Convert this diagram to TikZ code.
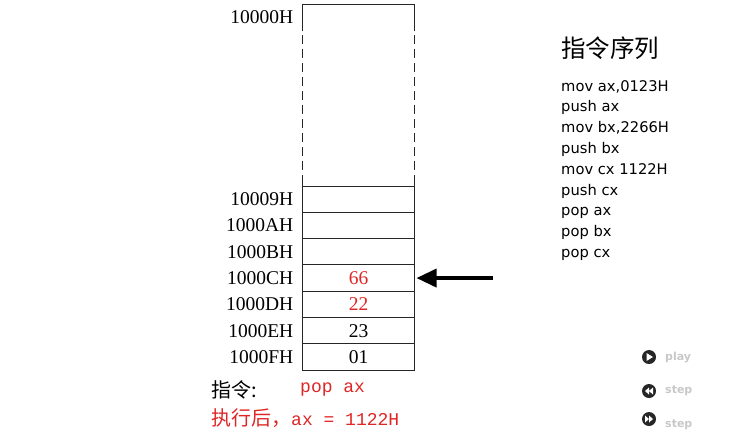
\documentclass[tikz,border=0pt]{standalone}
\usepackage{fontspec}
\setmainfont{Liberation Serif}
\newfontfamily\cjk{Noto Sans CJK SC}
\newfontfamily\listfont{DejaVu Sans}
\newfontfamily\codefont{Liberation Mono}
\usetikzlibrary{arrows.meta,positioning}
\definecolor{stackred}{RGB}{222,38,38}
\definecolor{btngray}{RGB}{200,200,200}
\definecolor{btndark}{RGB}{38,38,38}

\begin{document}
\begin{tikzpicture}[x=1pt,y=-1pt,node distance=0pt,>=latex,every node/.append style={inner sep=0pt},cell/.style={draw=black!85, line width=1pt, outer sep=0pt, minimum width=112pt, minimum height=26.3pt, font=\fontsize{19.5}{19.5}\selectfont},addr/.style={font=\fontsize{19.5}{19.5}\selectfont},
  redval/.style={text=stackred},btn/.style={fill=btndark},btnlabel/.style={anchor=west, text=btngray, font=\listfont\bfseries\fontsize{11}{11}\selectfont}]
    \useasboundingbox (0,0) rectangle (736,440);
    % stack of memory cells
    \node [outer sep=0pt, minimum width=112pt, minimum height=182pt] (c0) at (358.5,95) {};
    \node [cell, below=of c0] (c9)  {};
    \node [cell, below=of c9] (cA)  {};
    \node [cell, below=of cA] (cB)  {};
    \node [cell, below=of cB, redval] (cC)  {66};
    \node [cell, below=of cC, redval] (cD)  {22};
    \node [cell, below=of cD] (cE)  {23};
    \node [cell, below=of cE] (cF)  {01};
    \draw [black!85, line width=1pt] (c0.west |- c9.north) -- ++(0,-4) (c0.north west) -- (c0.north east) (c0.north west) -- ++(0,27) (c0.north east) -- ++(0,27) (c0.east |- c9.north) -- ++(0,-4);
    \draw [black!85, line width=1pt, dash pattern=on 9pt off 5pt] (c0.north west) ++(0,31) -- (c0.south west) (c0.north east) ++(0,31) -- (c0.south east);
    % addresses
    \node [addr, anchor=east] (a0) at ([xshift=-9pt, yshift=-13pt]c0.north west) {10000H};
    \node [addr, left=9pt of c9] (a9) {10009H};
    \node [addr, left=9pt of cA] (aA) {1000AH};
    \node [addr, left=9pt of cB] (aB) {1000BH};
    \node [addr, left=9pt of cC] (aC) {1000CH};
    \node [addr, left=9pt of cD] (aD) {1000DH};
    \node [addr, left=9pt of cE] (aE) {1000EH};
    \node [addr, left=9pt of cF] (aF) {1000FH};
    % stack pointer
    \coordinate [right=78pt of cC.east] (sp);
    \draw [-{Triangle[length=20pt,width=18pt]}, line width=3.6pt] (sp) -- ([xshift=2pt]cC.east);
    % current instruction
    \node [anchor=west, font=\cjk\fontsize{20}{20}\selectfont] (op) at (211,390) {指令:};
    \node [anchor=west, text=stackred, font=\codefont\fontsize{18}{18}\selectfont] (opc) at (300,390) {pop ax};
    \node [anchor=west, text=stackred, font=\fontsize{20}{20}\selectfont] (res) at (211,418) {{\cjk 执行后，}{\codefont\fontsize{18}{18}\selectfont ax = 1122H}};
    % instruction list
    \node [anchor=west, font=\cjk\fontsize{24.5}{24.5}\selectfont] (title) at (561,48) {指令序列};
    \node [anchor=north west, align=left, font=\listfont\fontsize{14.7}{20.8}\selectfont] (prog) at (561,80) {mov ax,0123H\\push ax\\mov bx,2266H\\push bx\\mov cx 1122H\\push cx\\pop ax\\pop bx\\pop cx};
    % player buttons
    \fill [btn] (649,357) circle (7);
    \fill [white] (646.5,353) -- (653,357) -- (646.5,361) -- cycle;
    \fill [btn] (649,391) circle (7);
    \fill [white] (645,391) -- (649,387.5) -- (649,394.5) -- cycle (649,391) -- (653,387.5) -- (653,394.5) -- cycle;
    \fill [btn] (649,419) circle (7);
    \fill [white] (653,419) -- (649,415.5) -- (649,422.5) -- cycle (649,419) -- (645,415.5) -- (645,422.5) -- cycle;
    \node [btnlabel] (play) at (665,357) {play};
    \node [btnlabel] (back) at (665,391) {step};
    \node [btnlabel] (next) at (665,425) {step};
\end{tikzpicture}
\end{document}
